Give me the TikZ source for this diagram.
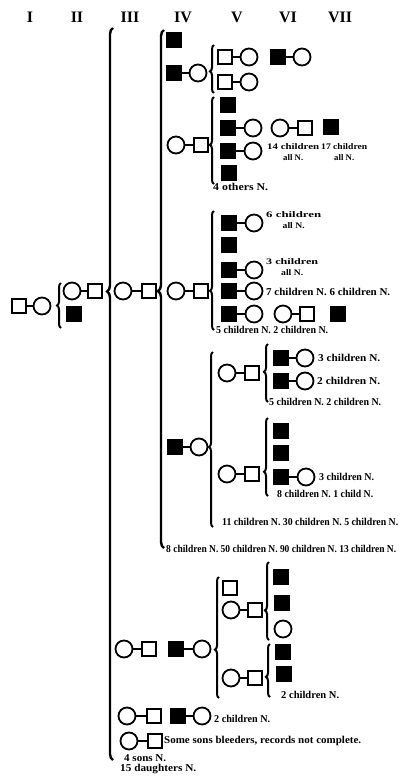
\documentclass[tikz,border=0pt]{standalone}
\usepackage{fontspec}
\setmainfont{Liberation Serif}
\usetikzlibrary{decorations.pathreplacing}
\newcommand{\fitw}[2]{\resizebox{#1pt}{\height}{#2}}
\begin{document}
\begin{tikzpicture}[x=1pt,y=-1pt,
  sq/.style={draw, line width=1.8pt, rectangle, minimum size=14.5pt, inner sep=0pt},
  fsq/.style={sq, fill=black},
  ci/.style={draw, line width=1.8pt, circle, minimum size=17pt, inner sep=0pt},
  mar/.style={line width=1.8pt},
  br/.style={line width=2pt, decorate, decoration={brace, amplitude=4pt, aspect=#1}},
  brbig/.style={line width=2.4pt, decorate, decoration={brace, amplitude=6pt, aspect=#1}},
  lbl/.style={font=\fontsize{10.5}{8.5}\selectfont\bfseries, inner sep=0pt, anchor=west},
  lbltwo/.style={font=\fontsize{8.5}{10.5}\selectfont\bfseries, inner sep=0pt, anchor=west, align=center},
  hdr/.style={font=\fontsize{16}{16}\selectfont\bfseries, inner sep=0pt}]
\useasboundingbox (0,0) rectangle (400,776);
% headers
\node[hdr] (h1) at (30,17) {I};
\node[hdr] (h2) at (77,17) {II};
\node[hdr] (h3) at (130,17) {III};
\node[hdr] (h4) at (183,17) {IV};
\node[hdr] (h5) at (237,17) {V};
\node[hdr] (h6) at (288,17) {VI};
\node[hdr] (h7) at (340,17) {VII};
% generation I
\node[sq] (g1m) at (19,306) {};
\node[ci] (g1f) at (42,306) {};
\draw[mar] (g1m) -- (g1f);
\draw[br=0.5] (61,328) -- (61,283);
% generation II
\node[ci] (g2f) at (72,291) {};
\node[sq] (g2m) at (95,291) {};
\node[fsq] (g2s) at (74,314) {};
\draw[mar] (g2f) -- (g2m);
\draw[brbig=0.64] (113,760) -- (113,28);
% generation III
\node[ci] (g3f) at (123,291) {};
\node[sq] (g3m) at (149,291) {};
\draw[mar] (g3f) -- (g3m);
\draw[brbig=0.496] (164,548) -- (164,30);
% generation IV
\node[fsq] (a1) at (174,40) {};
\node[fsq] (b1) at (174,73) {};
\node[ci] (b2) at (198,73) {};
\draw[mar] (b1) -- (b2);
\node[ci] (c1) at (176,145) {};
\node[sq] (c2) at (201,145) {};
\draw[mar] (c1) -- (c2);
\node[ci] (d1) at (176,291) {};
\node[sq] (d2) at (201,291) {};
\draw[mar] (d1) -- (d2);
\node[fsq] (e1) at (175,447) {};
\node[ci] (e2) at (199,447) {};
\draw[mar] (e1) -- (e2);
% branch B
\draw[br=0.45] (214,93) -- (214,45);
\node[sq] (b11) at (225,57) {};
\node[ci] (b12) at (249,57) {};
\draw[mar] (b11) -- (b12);
\node[fsq] (b13) at (278,57) {};
\node[ci] (b14) at (302,57) {};
\draw[mar] (b13) -- (b14);
\node[sq] (b21) at (225,82) {};
\node[ci] (b22) at (249,82) {};
\draw[mar] (b21) -- (b22);
% branch C
\draw[br=0.45] (214,184) -- (214,97);
\node[fsq] (c11) at (228,105) {};
\node[fsq] (c21) at (228,128) {};
\node[ci] (c22) at (253,128) {};
\draw[mar] (c21) -- (c22);
\node[ci] (c23) at (280,128) {};
\node[sq] (c24) at (305,128) {};
\draw[mar] (c23) -- (c24);
\node[fsq] (c25) at (331,127) {};
\node[fsq] (c31) at (228,151) {};
\node[ci] (c32) at (253,151) {};
\draw[mar] (c31) -- (c32);
\node[fsq] (c41) at (229,173) {};
\node[lbl] (t1) at (213,187) {\fitw{55}{4 others N.}};
\node[lbltwo] (t2) at (267,152) {\fitw{52}{14 children}\\ \fitw{20}{all N.}};
\node[lbltwo] (t3) at (321,152) {\fitw{46}{17 children}\\ \fitw{20}{all N.}};
% branch D
\draw[br=0.33] (214,330) -- (214,211);
\node[fsq] (d11) at (229,223) {};
\node[ci] (d12) at (254,223) {};
\draw[mar] (d11) -- (d12);
\node[fsq] (d21) at (229,245) {};
\node[fsq] (d31) at (229,270) {};
\node[ci] (d32) at (254,270) {};
\draw[mar] (d31) -- (d32);
\node[fsq] (d41) at (229,291) {};
\node[ci] (d42) at (254,291) {};
\draw[mar] (d41) -- (d42);
\node[fsq] (d51) at (229,314) {};
\node[ci] (d52) at (254,314) {};
\draw[mar] (d51) -- (d52);
\node[ci] (d53) at (283,314) {};
\node[sq] (d54) at (307,314) {};
\draw[mar] (d53) -- (d54);
\node[fsq] (d55) at (338,314) {};
\node[lbltwo] (t4) at (266,220) {\fitw{55}{6 children}\\ \fitw{22}{all N.}};
\node[lbltwo] (t5) at (266,267) {\fitw{52}{3 children}\\ \fitw{22}{all N.}};
\node[lbl] (t6) at (266,292) {\fitw{124}{7 children N. 6 children N.}};
\node[lbl] (t7) at (216,330) {\fitw{112}{5 children N. 2 children N.}};
% branch E
\draw[br=0.457] (213,527) -- (213,352);
\node[ci] (e11) at (227,373) {};
\node[sq] (e12) at (252,373) {};
\draw[mar] (e11) -- (e12);
\draw[br=0.52] (268,402) -- (268,344);
\node[fsq] (e13) at (281,358) {};
\node[ci] (e14) at (305,358) {};
\draw[mar] (e13) -- (e14);
\node[fsq] (e15) at (281,381) {};
\node[ci] (e16) at (305,381) {};
\draw[mar] (e15) -- (e16);
\node[lbl] (t8) at (318,358) {\fitw{62}{3 children N.}};
\node[lbl] (t9) at (317,381) {\fitw{63}{2 children N.}};
\node[lbl] (t10) at (269,402) {\fitw{112}{5 children N. 2 children N.}};
\node[ci] (e21) at (227,474) {};
\node[sq] (e22) at (252,474) {};
\draw[mar] (e21) -- (e22);
\draw[br=0.31] (268,496) -- (268,418);
\node[fsq] (e23) at (281,431) {};
\node[fsq] (e24) at (281,453) {};
\node[fsq] (e25) at (281,477) {};
\node[ci] (e26) at (306,477) {};
\draw[mar] (e25) -- (e26);
\node[lbl] (t11) at (319,477) {\fitw{55}{3 children N.}};
\node[lbl] (t12) at (277,494) {\fitw{96}{8 children N. 1 child N.}};
\node[lbl] (t13) at (222,522) {\fitw{176}{11 children N. 30 children N. 5 children N.}};
\node[lbl] (t14) at (166,549) {\fitw{230}{8 children N. 50 children N. 90 children N. 13 children N.}};
% lower section
\node[ci] (l1) at (124,649) {};
\node[sq] (l2) at (149,649) {};
\draw[mar] (l1) -- (l2);
\node[fsq] (l3) at (176,649) {};
\node[ci] (l4) at (202,649) {};
\draw[mar] (l3) -- (l4);
\draw[br=0.4] (219,698) -- (219,577);
\node[sq] (l11) at (230,588) {};
\node[ci] (l21) at (231,610) {};
\node[sq] (l22) at (255,610) {};
\draw[mar] (l21) -- (l22);
\draw[br=0.38] (269,640) -- (269,562);
\node[fsq] (l23) at (281,577) {};
\node[fsq] (l24) at (282,603) {};
\node[ci] (l25) at (283,629) {};
\node[ci] (l31) at (231,678) {};
\node[sq] (l32) at (255,678) {};
\draw[mar] (l31) -- (l32);
\draw[br=0.38] (270,697) -- (270,644);
\node[fsq] (l33) at (283,652) {};
\node[fsq] (l34) at (284,674) {};
\node[lbl] (t15) at (281,695) {\fitw{58}{2 children N.}};
\node[ci] (m1) at (127,716) {};
\node[sq] (m2) at (154,716) {};
\draw[mar] (m1) -- (m2);
\node[fsq] (m3) at (178,716) {};
\node[ci] (m4) at (202,716) {};
\draw[mar] (m3) -- (m4);
\node[lbl] (t16) at (214,719) {\fitw{56}{2 children N.}};
\node[ci] (n1) at (129,741) {};
\node[sq] (n2) at (155,741) {};
\draw[mar] (n1) -- (n2);
\node[lbl] (t17) at (164,741) {\fitw{197}{Some sons bleeders, records not complete.}};
\node[lbl] (t18) at (124,758) {\fitw{42}{4 sons N.}};
\node[lbl] (t19) at (120,769) {\fitw{76}{15 daughters N.}};
\end{tikzpicture}
\end{document}
